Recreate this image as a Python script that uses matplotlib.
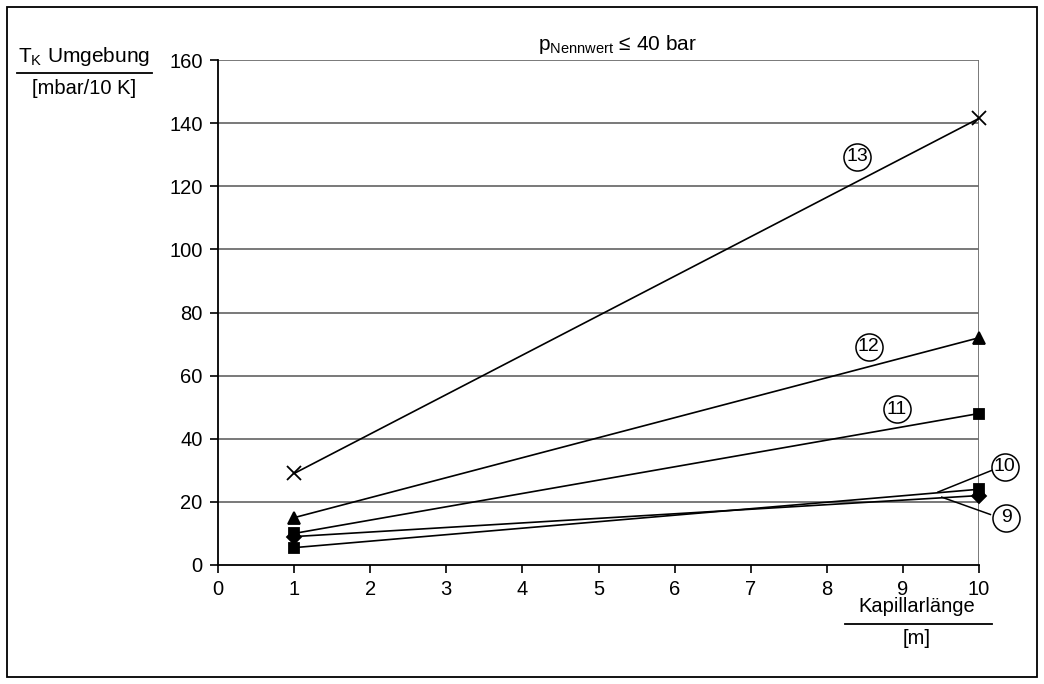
import matplotlib
matplotlib.use("Agg")
import matplotlib.pyplot as plt
from matplotlib.lines import Line2D
from matplotlib.patches import Rectangle

plt.rcParams["font.family"] = ["Liberation Sans", "DejaVu Sans"]
plt.rcParams["mathtext.fontset"] = "custom"
plt.rcParams["mathtext.rm"] = "Liberation Sans"

# Kapillarlänge [m]
lengths = [1, 10]

# T_K Umgebung [mbar/10 K], one series per curve
curve_13 = [29, 141.5]
curve_12 = [15, 72]
curve_11 = [10, 48]
curve_10 = [5.5, 24]
curve_9 = [9, 22]

series = [
    ("13", curve_13, "x"),
    ("12", curve_12, "^"),
    ("11", curve_11, "s"),
    ("10", curve_10, "s"),
    ("9", curve_9, "D"),
]

# circled labels: (text, x, y)
labels = [
    ("13", 8.40, 129.3),
    ("12", 8.55, 69.1),
    ("11", 8.92, 49.4),
    ("10", 10.34, 31.1),
    ("9", 10.36, 14.9),
]
# leader lines for labels 10 and 9
leaders = [
    ((10.17, 9.46), (30.0, 23.1)),
    ((10.15, 9.51), (16.0, 21.5)),
]

W, H = 1044, 684
FS = 14.5
fig = plt.figure(figsize=(W / 100, H / 100), dpi=100)
ax = fig.add_axes([218 / W, 1 - 565 / H, (979 - 218) / W, (565 - 60) / H])

grid_c = "#6e6e6e"
for y in range(20, 161, 20):
    ax.axhline(y, color=grid_c, lw=1.3, zorder=1)
ax.axvline(10, color=grid_c, lw=1.3, zorder=1)

msize = {"x": 10, "^": 9, "s": 7, "D": 7}
for name, vals, m in series:
    ax.plot(lengths, vals, color="black", lw=1.2, zorder=3)
    ax.plot(lengths, vals, linestyle="none", marker=m, ms=msize[m],
            color="black", mew=1.3, zorder=4, clip_on=False)

for xs, ys in leaders:
    ax.plot(xs, ys, color="black", lw=1.1, zorder=3, clip_on=False)
for txt, x, y in labels:
    ax.plot([x], [y], marker="o", ms=19.5, mfc="white", mec="black", mew=1.1,
            linestyle="none", zorder=5, clip_on=False)
    ax.text(x, y, txt, fontsize=14, ha="center", va="center", zorder=6,
            family=["Liberation Sans Narrow", "Liberation Sans", "DejaVu Sans"])

ax.set_xlim(0, 10)
ax.set_ylim(0, 160)
ax.set_xticks(range(0, 11))
ax.set_yticks(range(0, 161, 20))
ax.tick_params(direction="out", length=6, width=1.2, labelsize=FS, pad=5, color="black")
for s in ("top", "right"):
    ax.spines[s].set_visible(False)
for s in ("left", "bottom"):
    ax.spines[s].set_linewidth(1.3)

# title
fig.text(617 / W, 1 - 44 / H, r"$\mathrm{p}_{\mathrm{Nennwert}}$" + " ≤ 40 bar",
         fontsize=15, ha="center", va="center")

# y-axis label as fraction
fig.text(84 / W, 1 - 56 / H, r"$\mathrm{T}_{\mathrm{K}}$ Umgebung",
         fontsize=15, ha="center", va="center")
fig.add_artist(Line2D([17 / W, 152 / W], [1 - 73 / H, 1 - 73 / H], color="black", lw=1.3))
fig.text(84 / W, 1 - 89 / H, "[mbar/10 K]", fontsize=FS, ha="center", va="center")

# x-axis label as fraction
fig.text(917 / W, 1 - 607 / H, "Kapillarlänge", fontsize=FS, ha="center", va="center")
fig.add_artist(Line2D([845 / W, 992 / W], [1 - 624 / H, 1 - 624 / H], color="black", lw=1.3))
fig.text(917 / W, 1 - 638 / H, "[m]", fontsize=FS, ha="center", va="center")

# outer frame
fig.add_artist(Rectangle((7 / W, 7 / H), (1037 - 7) / W, (677 - 7) / H,
                         transform=fig.transFigure, fill=False, ec="black", lw=1.3))

fig.savefig("out.png", dpi=100)
